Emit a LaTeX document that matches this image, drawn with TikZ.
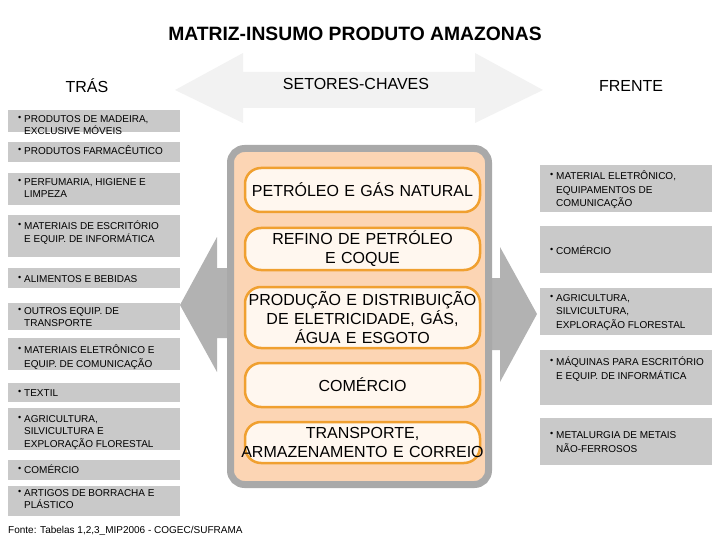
\documentclass[tikz,border=0pt]{standalone}
\usepackage{fontspec}
\setmainfont{Liberation Sans}
\usetikzlibrary{positioning}

\definecolor{boxgray}{HTML}{C9C9C9}
\definecolor{arrowgray}{HTML}{B2B2B2}
\definecolor{palegray}{HTML}{F2F2F2}
\definecolor{peach}{HTML}{FCD5B4}
\definecolor{rimgray}{HTML}{A9A9A9}
\definecolor{cream}{HTML}{FFF7EF}
\definecolor{keyorange}{HTML}{F0A030}

\newcommand{\bul}{\makebox[6pt][l]{\raisebox{2pt}{\fontsize{9}{9}\selectfont\textbullet}}}
% [baselineskip]{height}{top pad}{text}
\newcommand{\boxtext}[4][12.5]{%
  \parbox[c][#2][t]{172pt}{\vspace*{#3}\leftskip=16pt\parindent=0pt
    \fontsize{10}{#1}\selectfont\strut\hspace*{-6pt}\bul #4\par}}
\newcommand{\wide}[1]{\makebox[0pt]{#1}}

\begin{document}
\begin{tikzpicture}[
  x=1pt, y=-1pt,
  sidebox/.style={fill=boxgray, inner sep=0pt, anchor=north west},
  keybox/.style={draw=keyorange, line width=2.5pt, fill=cream, rounded corners=16pt,
    text width=235pt, align=center, inner sep=0pt, font=\fontsize{16}{19}\selectfont},
  head/.style={inner sep=0pt, anchor=base, font=\fontsize{16}{19}\selectfont},
]
  \useasboundingbox (0,0) rectangle (720,540);

  % seta dupla do topo
  \fill[palegray] (175,90) -- (243,53) -- (243,72) -- (475,72) -- (475,53) -- (543,90)
    -- (475,123) -- (475,108) -- (243,108) -- (243,123) -- cycle;

  % setas laterais
  \fill[arrowgray] (180,305) -- (217,237) -- (217,268) -- (240,268) -- (240,338)
    -- (217,338) -- (217,372) -- cycle;
  \fill[arrowgray] (480,278) -- (500,278) -- (500,247) -- (537,314) -- (500,382)
    -- (500,350) -- (480,350) -- cycle;

  \node[inner sep=0pt, font=\bfseries\fontsize{19.3}{22}\selectfont] (titulo) at (355,33.5)
    {MATRIZ-INSUMO PRODUTO AMAZONAS};
  \node[head] (tras) at (87,93) {TRÁS};
  \node[head] (setores) at (356,90) {SETORES-CHAVES};
  \node[head] (frente) at (631,92) {FRENTE};

  % bloco central
  \node[draw=rimgray, line width=7pt, fill=peach, rounded corners=14pt, inner sep=0pt,
    minimum width=258pt, minimum height=336pt] (chaves) at (359.5,316.5) {};

  \node[keybox, minimum height=44pt] (petroleo) at (362.5,190) {PETRÓLEO E GÁS NATURAL};
  \node[keybox, minimum height=42pt] (refino) at (362.5,249) {REFINO DE PETRÓLEO\\E COQUE};
  \node[keybox, minimum height=61pt] (eletricidade) at (362.5,317.5)
    {\wide{PRODUÇÃO E DISTRIBUIÇÃO}\\DE ELETRICIDADE, GÁS,\\ÁGUA E ESGOTO};
  \node[keybox, minimum height=44pt] (comercio) at (362.5,385) {COMÉRCIO};
  \node[keybox, minimum height=41pt] (transporte) at (362.5,442.5)
    {TRANSPORTE,\\\wide{ARMAZENAMENTO E CORREIO}};

  % para tras
  \node[sidebox] (t1) at (8,110) {\boxtext{22pt}{3.5pt}{PRODUTOS DE MADEIRA,\\EXCLUSIVE MÓVEIS}};
  \node[sidebox] (t2) at (8,142) {\boxtext{20pt}{4pt}{PRODUTOS FARMACÊUTICO}};
  \node[sidebox] (t3) at (8,173) {\boxtext{32pt}{3.5pt}{PERFUMARIA, HIGIENE E\\LIMPEZA}};
  \node[sidebox] (t4) at (8,215) {\boxtext{42pt}{6pt}{MATERIAIS DE ESCRITÓRIO\\E EQUIP. DE INFORMÁTICA}};
  \node[sidebox] (t5) at (8,268) {\boxtext{20pt}{5.5pt}{ALIMENTOS E BEBIDAS}};
  \node[sidebox] (t6) at (8,303) {\boxtext{27pt}{2.5pt}{OUTROS EQUIP. DE\\TRANSPORTE}};
  \node[sidebox] (t7) at (8,338) {\boxtext{32pt}{7pt}{MATERIAIS ELETRÔNICO E\\EQUIP. DE COMUNICAÇÃO}};
  \node[sidebox] (t8) at (8,383) {\boxtext{19pt}{4.5pt}{TEXTIL}};
  \node[sidebox] (t9) at (8,408) {\boxtext{42pt}{5.5pt}{AGRICULTURA,\\SILVICULTURA E\\EXPLORAÇÃO FLORESTAL}};
  \node[sidebox] (t10) at (8,460) {\boxtext{20pt}{5pt}{COMÉRCIO}};
  \node[sidebox] (t11) at (8,486) {\boxtext{30pt}{1.5pt}{ARTIGOS DE BORRACHA E\\PLÁSTICO}};

  % para frente
  \node[sidebox] (f1) at (540,165) {\boxtext[13.5]{47pt}{5pt}{MATERIAL ELETRÔNICO,\\EQUIPAMENTOS DE\\COMUNICAÇÃO}};
  \node[sidebox] (f2) at (540,226) {\boxtext[13.5]{47pt}{19pt}{COMÉRCIO}};
  \node[sidebox] (f3) at (540,288) {\boxtext[13.5]{47pt}{3.5pt}{AGRICULTURA,\\SILVICULTURA,\\EXPLORAÇÃO FLORESTAL}};
  \node[sidebox] (f4) at (540,350) {\boxtext[13.5]{55pt}{6pt}{MÁQUINAS PARA ESCRITÓRIO\\E EQUIP. DE INFORMÁTICA}};
  \node[sidebox] (f5) at (540,418) {\boxtext[13.5]{47pt}{11pt}{METALURGIA DE METAIS\\NÃO-FERROSOS}};

  \node[inner sep=0pt, anchor=base west, font=\fontsize{10}{12}\selectfont] (fonte) at (8,533)
    {Fonte: Tabelas 1,2,3\_MIP2006 - COGEC/SUFRAMA};
\end{tikzpicture}
\end{document}
